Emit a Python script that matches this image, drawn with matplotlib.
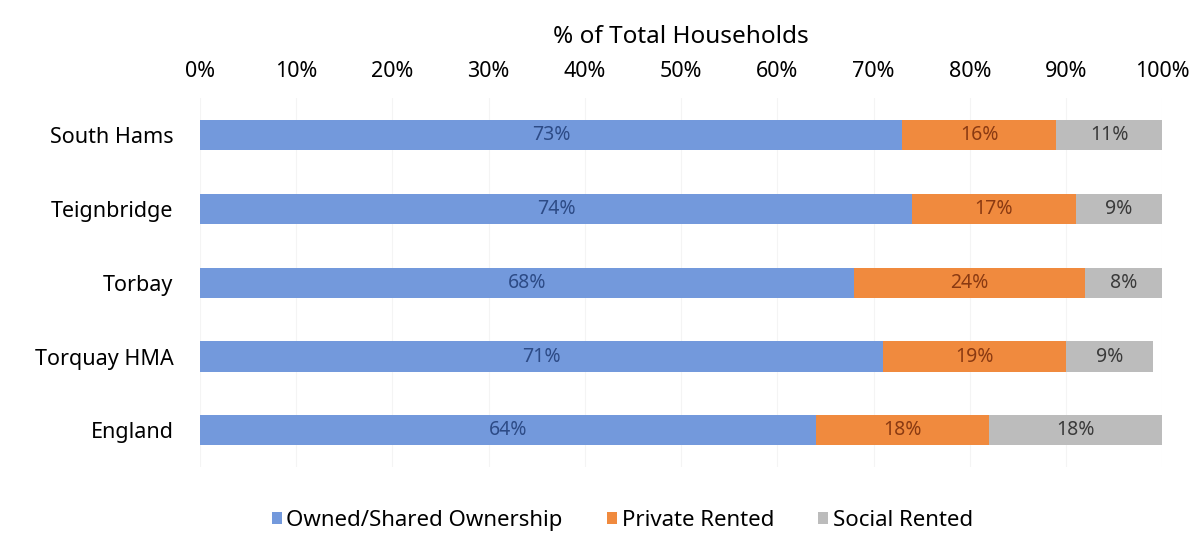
import matplotlib.pyplot as plt
import numpy as np

plt.rcParams["font.family"] = ["Noto Sans", "DejaVu Sans"]

areas = ["South Hams", "Teignbridge", "Torbay", "Torquay HMA", "England"]
owned = [73, 74, 68, 71, 64]
private_rented = [16, 17, 24, 19, 18]
social_rented = [11, 9, 8, 9, 18]
tick_pcts = [0, 10, 20, 30, 40, 50, 60, 70, 80, 90, 100]

series = [
    ("Owned/Shared Ownership", owned, "#7399dc", "#2d4b86"),
    ("Private Rented", private_rented, "#f08a3e", "#8a3a12"),
    ("Social Rented", social_rented, "#bcbcbc", "#3a3a3a"),
]

fig = plt.figure(figsize=(11.97, 5.49), dpi=100)
ax = fig.add_axes([0.167, 0.149, 0.804, 0.672])

y = np.arange(len(areas))
left = np.zeros(len(areas))
for name, vals, colour, txt_colour in series:
    vals = np.array(vals, dtype=float)
    ax.barh(y, vals, left=left, height=0.41, color=colour, label=name, zorder=2)
    for yi, l, v in zip(y, left, vals):
        ax.text(l + v / 2, yi, f"{v:.0f}%", ha="center", va="center",
                fontsize=14, color=txt_colour, zorder=3)
    left += vals

ax.set_xlim(0, 100)
ax.set_ylim(len(areas) - 0.5, -0.5)
ax.set_yticks(y)
ax.set_yticklabels(areas, fontsize=15.5)
ax.set_xticks(tick_pcts)
ax.set_xticklabels([f"{t}%" for t in tick_pcts], fontsize=15.5)
ax.xaxis.tick_top()
ax.xaxis.set_label_position("top")
ax.set_xlabel("% of Total Households", fontsize=17.5, labelpad=13)
ax.tick_params(axis="y", length=0, pad=19)
ax.tick_params(axis="x", length=0, pad=12)
for s in ax.spines.values():
    s.set_visible(False)
ax.grid(axis="x", color="#f4f4f4", lw=0.8, zorder=0)

fig.legend(loc="center", bbox_to_anchor=(0.52, 0.052), ncol=3, frameon=False,
           fontsize=16, handlelength=0.45, handleheight=0.45, handletextpad=0.2,
           columnspacing=2.0)

fig.savefig("out.png", dpi=100)
